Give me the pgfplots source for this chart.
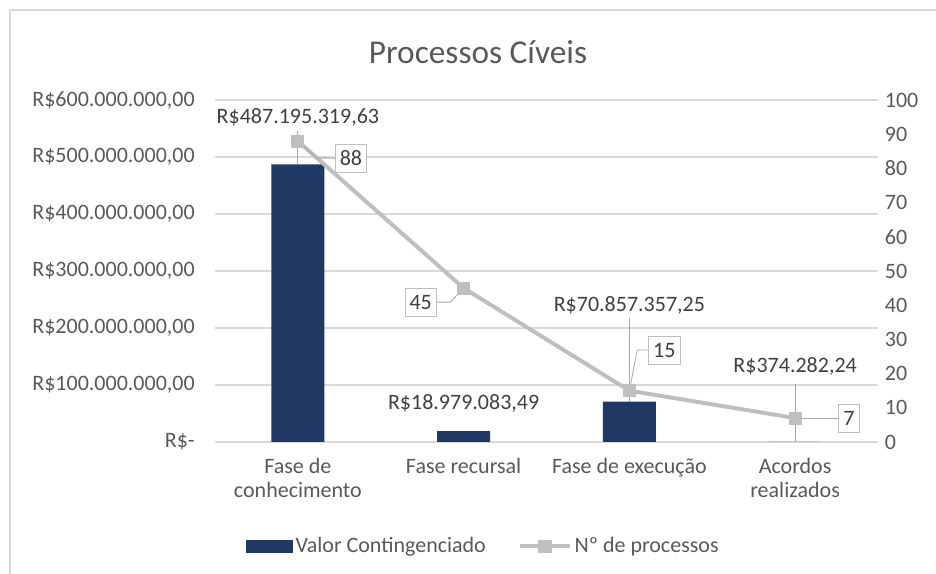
\documentclass[border=0pt]{standalone}
\usepackage{pgfplots}
\pgfplotsset{compat=1.18}
\usepackage{fontspec}
\setmainfont{Carlito}
\definecolor{barblue}{RGB}{31,56,100}
\definecolor{linegray}{RGB}{191,191,191}
\definecolor{leadgray}{RGB}{166,166,166}
\definecolor{gridgray}{RGB}{217,217,217}
\definecolor{txt}{RGB}{89,89,89}
\definecolor{lbl}{RGB}{64,64,64}
\newcommand{\lf}{\fontsize{16.5}{18}\selectfont}
\begin{document}
\begin{tikzpicture}
\path[use as bounding box] (-161.25pt,-99pt) rectangle (540.75pt,331.5pt);
\draw[gridgray, line width=1.2pt] (-153.75pt,-99pt) -- (-153.75pt,324pt) -- (540.75pt,324pt);
\begin{axis}[
  at={(0,0)}, anchor=south west,
  scale only axis, width=497.25pt, height=256.5pt,
  xmin=-0.5, xmax=3.5, ymin=0, ymax=600000000,
  scaled y ticks=false,
  xtick={0,1,2,3},
  xticklabels={{Fase de\\conhecimento},{Fase recursal},{Fase de execução},{Acordos\\realizados}},
  ytick={0,100000000,200000000,300000000,400000000,500000000,600000000},
  yticklabels={{R\$-},{R\$100.000.000,00},{R\$200.000.000,00},{R\$300.000.000,00},{R\$400.000.000,00},{R\$500.000.000,00},{R\$600.000.000,00}},
  ymajorgrids, grid style={gridgray, line width=0.9pt},
  axis line style={draw=none}, major tick length=0,
  tick label style={font=\lf, text=txt},
  yticklabel style={anchor=east, inner sep=0pt, xshift=-15pt},
  xticklabel style={align=center, anchor=north, inner sep=0pt, yshift=-12pt},
  ybar, bar width=39.75pt,
  clip=false,
]
\addplot[fill=barblue, draw=none] coordinates {(0,487195319.63) (1,18979083.49) (2,70857357.25) (3,374282.24)};
\draw[leadgray, line width=0.6pt] (axis cs:0,545000000) -- (axis cs:0,487195319);
\draw[leadgray, line width=0.6pt] (axis cs:2,218000000) -- (axis cs:2,70857357);
\draw[leadgray, line width=0.6pt] (axis cs:3,102000000) -- (axis cs:3,0);
\node[font=\lf, text=lbl] at (axis cs:0,570000000) {R\$487.195.319,63};
\node[font=\lf, text=lbl] at (axis cs:1,68400000) {R\$18.979.083,49};
\node[font=\lf, text=lbl] at (axis cs:2,240000000) {R\$70.857.357,25};
\node[font=\lf, text=lbl] at (axis cs:3,133300000) {R\$374.282,24};
\end{axis}
\begin{axis}[
  at={(0,0)}, anchor=south west,
  scale only axis, width=497.25pt, height=256.5pt,
  xmin=-0.5, xmax=3.5, ymin=0, ymax=100,
  hide x axis, axis y line*=right, y axis line style={draw=none},
  ytick={0,10,...,100}, major tick length=0,
  tick label style={font=\lf, text=txt},
  yticklabel style={anchor=west, inner sep=0pt, xshift=5pt},
  /pgf/number format/assume math mode=true,
  clip=false,
  legend style={at={(axis description cs:0.405,-0.304)}, anchor=center, draw=none, fill=none,
    legend columns=2, font=\lf, text=txt, inner sep=0pt,
    /tikz/every even column/.append style={column sep=22pt}},
  legend cell align=left,
]
\addlegendimage{area legend, legend image code/.code={\fill[barblue] (0pt,-4.5pt) rectangle (35pt,4.5pt);}}
\addlegendentry{Valor Contingenciado}
\addlegendimage{legend image code/.code={\draw[linegray, line width=3pt] (0pt,0pt) -- (37.5pt,0pt); \fill[linegray] (14pt,-4.5pt) rectangle (23.5pt,4.5pt);}}
\addlegendentry{Nº de processos}
\addplot[linegray, line width=3pt, mark=square*, mark size=4.5pt, mark options={fill=linegray, draw=linegray, line width=0pt}] coordinates {(0,88) (1,45) (2,15) (3,7)};
\node[draw=linegray, fill=white, font=\lf, text=lbl, inner sep=3.5pt, minimum height=21pt] (b88) at (axis cs:0.32,83) {88};
\node[draw=linegray, fill=white, font=\lf, text=lbl, inner sep=3.5pt, minimum height=21pt] (b45) at (axis cs:0.741,40.9) {45};
\node[draw=linegray, fill=white, font=\lf, text=lbl, inner sep=3.5pt, minimum height=21pt] (b15) at (axis cs:2.211,26.9) {15};
\node[draw=linegray, fill=white, font=\lf, text=lbl, inner sep=3.5pt, minimum height=21pt] (b7) at (axis cs:3.325,7) {7};
\draw[leadgray, line width=0.6pt] (axis cs:0,88) -- (axis cs:0.115,83) -- (b88.west);
\draw[leadgray, line width=0.6pt] (b45.east) -- (axis cs:0.92,40.9) -- (axis cs:1,45);
\draw[leadgray, line width=0.6pt] (b15.west) -- (axis cs:2.048,26.9) -- (axis cs:2,15);
\draw[leadgray, line width=0.6pt] (axis cs:3,7) -- (b7.west);
\end{axis}
\node[font=\fontsize{25}{30}\selectfont, text=txt] at (197.25pt,292.5pt) {Processos Cíveis};
\end{tikzpicture}
\end{document}
